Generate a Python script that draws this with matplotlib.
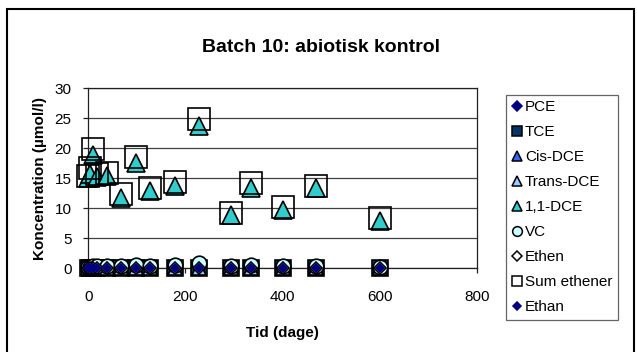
import matplotlib
matplotlib.use("Agg")
import matplotlib.pyplot as plt
from matplotlib.lines import Line2D
from matplotlib.patches import Rectangle

plt.rcParams['font.family'] = ['Liberation Sans', 'DejaVu Sans']

# time (days) and concentrations (umol/l)
tid = [0, 4, 10, 18, 38, 67, 98, 128, 179, 229, 293, 335, 400, 468, 600]
pce = [0, 0, 0, 0, 0, 0, 0, 0, 0, 0, 0, 0, 0, 0, 0]
tce = [0, 0, 0, 0, 0, 0, 0, 0, 0, 0, 0, 0, 0, 0, 0]
cis_dce = [0, 0, 0, 0, 0, 0, 0, 0, 0, 0, 0, 0, 0, 0, 0]
trans_dce = [0, 0, 0, 0, 0, 0, 0, 0, 0, 0, 0, 0, 0, 0, 0]
dce11 = [15.0, 15.6, 18.9, 15.2, 15.3, 11.7, 17.5, 12.8, 13.7, 23.6, 8.8, 13.4, 9.7, 13.3, 7.9]
vc = [0.1, 0.2, 0.3, 0.4, 0.4, 0.4, 0.5, 0.4, 0.5, 0.8, 0.4, 0.5, 0.4, 0.4, 0.2]
ethen = [0, 0, 0, 0, 0, 0, 0, 0, 0, 0, 0, 0, 0, 0, 0]
sum_ethener = [15.4, 16.6, 19.9, 15.7, 15.8, 12.3, 18.5, 13.4, 14.3, 24.8, 9.2, 14.1, 10.2, 13.7, 8.4]
ethan = [0, 0, 0, 0, 0, 0, 0, 0, 0, 0, 0, 0, 0, 0, 0]

labels = ['PCE', 'TCE', 'Cis-DCE', 'Trans-DCE', '1,1-DCE', 'VC', 'Ethen', 'Sum ethener', 'Ethan']

fig = plt.figure(figsize=(6.37, 3.52), dpi=100)
ax = fig.add_axes([88.3 / 637, 1 - 268 / 352, (476.7 - 88.3) / 637, 180 / 352])

# series: (values, marker, size, face, edge, legend size)
series = [
    (pce, 'D', 4.5, '#000080', '#000080', 5),
    (tce, 's', 11, '#003366', 'black', 7),
    (cis_dce, '^', 10.5, '#3366FF', 'black', 7),
    (trans_dce, '^', 10.5, '#99CCFF', 'black', 7),
    (dce11, '^', 12.5, '#33CCCC', 'black', 7),
    (vc, 'o', 10.5, '#CCFFFF', 'black', 7),
    (ethen, 'D', 6, 'white', 'black', 5.5),
    (sum_ethener, 's', 16.5, 'none', 'black', 7),
    (ethan, 'D', 3.8, '#000080', '#000080', 4.5),
]

handles = []
for (vals, mk, ms, fc, ec, lms), lab in zip(series, labels):
    ax.plot(tid, vals, linestyle='none', marker=mk, markersize=ms,
            markerfacecolor=fc, markeredgecolor=ec, markeredgewidth=1.2,
            clip_on=False, zorder=3)
    handles.append(Line2D([], [], linestyle='none', marker=mk, markersize=lms,
                          markerfacecolor=fc, markeredgecolor=ec,
                          markeredgewidth=1.1, label=lab))

ax.set_xlim(0, 800)
ax.set_ylim(0, 30)
ax.set_xticks([0, 200, 400, 600, 800])
ax.set_yticks([0, 5, 10, 15, 20, 25, 30])
ax.yaxis.grid(True, color='#404040', linewidth=0.9)
ax.set_axisbelow(True)
for s in ax.spines.values():
    s.set_color('#202020')
    s.set_linewidth(0.9)
ax.tick_params(axis='both', direction='out', length=3.6, width=0.9, labelsize=11, color='#202020')
ax.tick_params(axis='y', pad=8.5)
ax.tick_params(axis='x', pad=12)

fig.text(321.5 / 637, 1 - 47 / 352, 'Batch 10: abiotisk kontrol', ha='center', va='center',
         fontsize=14, fontweight='bold')
fig.text(282 / 637, 1 - 333 / 352, 'Tid (dage)', ha='center', va='center',
         fontsize=11, fontweight='bold')
fig.text(40 / 637, 1 - 178 / 352, 'Koncentration (µmol/l)', ha='center', va='center',
         rotation=90, fontsize=11, fontweight='bold')

leg = fig.legend(handles=handles, loc='upper left', bbox_to_anchor=(506 / 637, 1 - 95 / 352),
                 frameon=True, fancybox=False, fontsize=11, labelspacing=0.72,
                 handlelength=0.7, handletextpad=0.2, borderpad=0.35, borderaxespad=0)
leg.get_frame().set_edgecolor('#404040')
leg.get_frame().set_linewidth(0.9)

# outer chart border (bottom edge is cut off in the reference)
fig.patches.append(Rectangle((7 / 637, -0.1), 627 / 637, 1.1 - 9 / 352, transform=fig.transFigure,
                             fill=False, edgecolor='black', linewidth=1.5))

fig.savefig('out.png', dpi=100)
